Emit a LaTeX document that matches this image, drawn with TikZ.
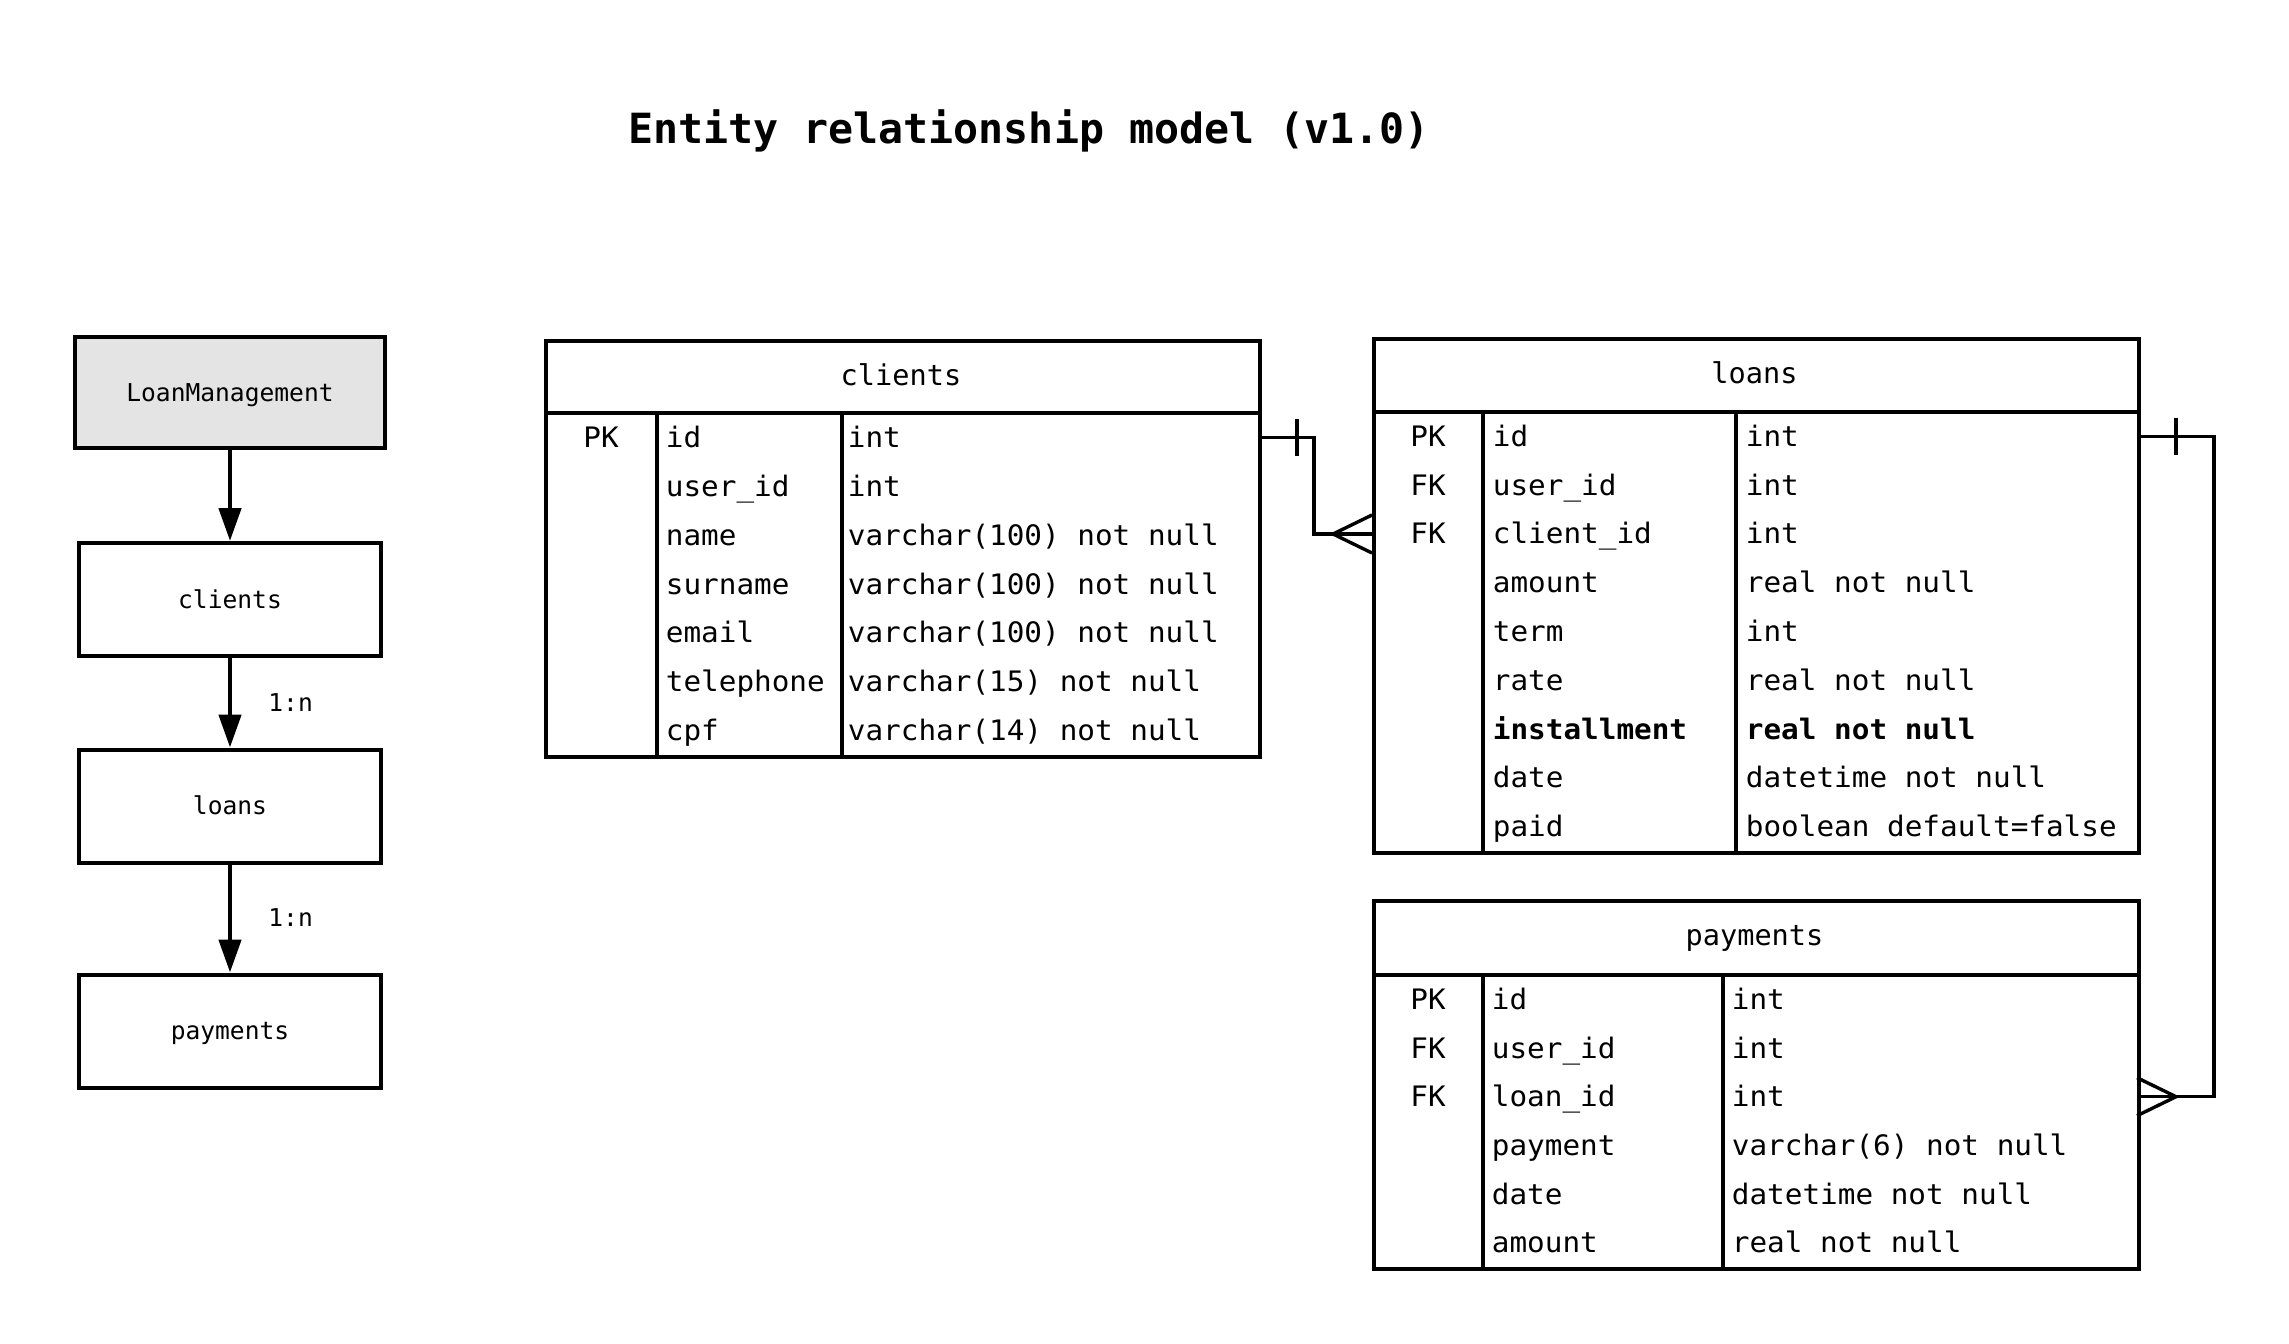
\documentclass[tikz,border=0pt]{standalone}
\usepackage{fontspec}
\newfontfamily\dmono{DejaVu Sans Mono}
\newfontfamily\dmonow[FakeStretch=1.04]{DejaVu Sans Mono}
\usetikzlibrary{arrows.meta}
\definecolor{boxgray}{RGB}{228,228,228}
\begin{document}
\begin{tikzpicture}[x=0.5pt,y=-0.5pt,
  tbl/.style={draw, line width=1.9pt, inner sep=0pt, anchor=north west},
  rule/.style={line width=1.8pt},
  rel/.style={line width=1.7pt},
  cell/.style={inner sep=0pt, anchor=base west, font=\dmonow\fontsize{14.1pt}{17pt}\selectfont},
  keycell/.style={inner sep=0pt, anchor=base, font=\dmonow\fontsize{14.1pt}{17pt}\selectfont},
  head/.style={inner sep=0pt, anchor=base, font=\dmono\fontsize{14.3pt}{17pt}\selectfont},
  sbox/.style={draw, line width=2pt, inner sep=0pt, minimum width=151pt, minimum height=56.5pt, text height=8.5pt, text depth=0pt, font=\dmono\fontsize{12.3pt}{15pt}\selectfont},
  arr/.style={line width=2.3pt, -{Triangle[length=16.5pt,width=11pt]}},
  lbl/.style={inner sep=0pt, anchor=base west, font=\dmono\fontsize{12.3pt}{15pt}\selectfont}
]
\useasboundingbox[fill=white] (0,0) rectangle (2289,1343);

% title
\node[inner sep=0pt, anchor=base, font=\dmono\fontsize{20.8pt}{24pt}\selectfont\bfseries] (title) at (1029,143) {Entity relationship model (v1.0)};

% left overview
\node[sbox, fill=boxgray, minimum width=155pt, minimum height=55.75pt] (sLM) at (230,392.5) {LoanManagement};
\node[sbox] (sCl) at (230,599.5) {clients};
\node[sbox] (sLo) at (230,806) {loans};
\node[sbox] (sPa) at (230,1031) {payments};
\draw[arr] (sLM.south) -- (sCl.north);
\draw[arr] (sCl.south) -- (sLo.north);
\draw[arr] (sLo.south) -- (sPa.north);
\node[lbl] (n1) at (268,711) {1:n};
\node[lbl] (n2) at (268,926) {1:n};

% clients table
\node[tbl, minimum width=357pt, minimum height=208pt] (clients) at (544,339) {};
\draw[rule] (544,413) -- (1258,413);
\draw[rule] (657,413) -- (657,755);
\draw[rule] (842,413) -- (842,755);
\node[head] (clientsH) at (901,385) {clients};
\node[keycell] (ck1) at (601,447.4) {PK};
\foreach \n/\t [count=\i] in {id/int, user\_id/int, name/varchar(100) not null, surname/varchar(100) not null, email/varchar(100) not null, telephone/varchar(15) not null, cpf/varchar(14) not null}{
  \node[cell] (cn\i) at (665.5,{413+48.86*(\i-0.5)+10}) {\n};
  \node[cell] (ct\i) at (847.5,{413+48.86*(\i-0.5)+10}) {\t};
}

% loans table
\node[tbl, minimum width=382.5pt, minimum height=257pt] (loans) at (1372,337) {};
\draw[rule] (1372,412) -- (2137,412);
\draw[rule] (1483,412) -- (1483,851);
\draw[rule] (1736,412) -- (1736,851);
\node[head] (loansH) at (1754.5,383.5) {loans};
\foreach \k [count=\i] in {PK,FK,FK}{
  \node[keycell] (lk\i) at (1428,{412+48.78*(\i-0.5)+10}) {\k};
}
\foreach \n/\t [count=\i] in {id/int, user\_id/int, client\_id/int, amount/real not null, term/int, rate/real not null, \textbf{installment}/\textbf{real not null}, date/datetime not null, paid/boolean default=false}{
  \node[cell] (ln\i) at (1492.5,{412+48.78*(\i-0.5)+10}) {\n};
  \node[cell] (lt\i) at (1745.5,{412+48.78*(\i-0.5)+10}) {\t};
}

% payments table
\node[tbl, minimum width=382.5pt, minimum height=184pt] (payments) at (1372,899) {};
\draw[rule] (1372,975) -- (2137,975);
\draw[rule] (1483,975) -- (1483,1267);
\draw[rule] (1723,975) -- (1723,1267);
\node[head] (paymentsH) at (1754.5,945) {payments};
\foreach \k [count=\i] in {PK,FK,FK}{
  \node[keycell] (pk\i) at (1428,{975+48.67*(\i-0.5)+10}) {\k};
}
\foreach \n/\t [count=\i] in {id/int, user\_id/int, loan\_id/int, payment/varchar(6) not null, date/datetime not null, amount/real not null}{
  \node[cell] (pn\i) at (1491.5,{975+48.67*(\i-0.5)+10}) {\n};
  \node[cell] (pt\i) at (1731.5,{975+48.67*(\i-0.5)+10}) {\t};
}

% relationship clients -> loans
\coordinate (cRow1) at (1258,437.4);
\coordinate (lRow3) at (1372,534);
\coordinate (cfA) at (1333,534);
\draw[rel] (cRow1) -- (1314,437.4) |- (lRow3);
\draw[rel] (1297,419) -- (1297,456);
\draw[rel] (1372,515) -- (cfA) -- (1372,553);

% relationship loans -> payments
\coordinate (lRow1) at (2137,436.4);
\coordinate (pRow3) at (2137,1096.7);
\coordinate (cfB) at (2176,1096.7);
\draw[rel] (lRow1) -- (2214,436.4) |- (pRow3);
\draw[rel] (2176,418) -- (2176,455);
\draw[rel] (2137,1077.7) -- (cfB) -- (2137,1115.7);
\end{tikzpicture}
\end{document}
